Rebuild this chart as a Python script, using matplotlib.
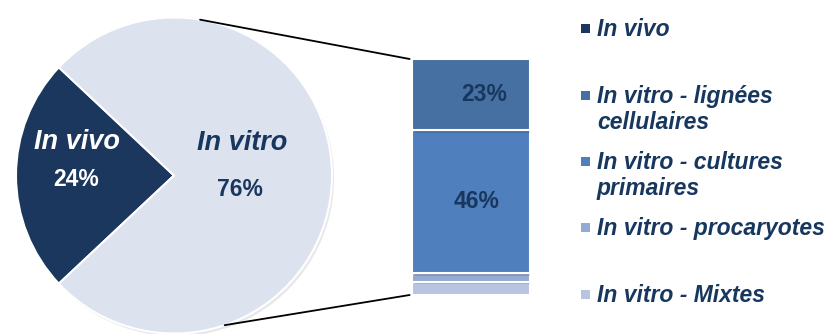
import matplotlib
matplotlib.use("Agg")
import matplotlib.pyplot as plt
from matplotlib.patches import ConnectionPatch, Rectangle
import matplotlib.patheffects as pe
import numpy as np

plt.rcParams['font.family'] = ['Liberation Sans', 'DejaVu Sans']

# main split
pie_labels = ["In vivo", "In vitro"]
pie_values = [24, 76]
pie_colors = ["#1b375d", "#dce2ee"]

# breakdown of the in vitro share (bottom to top)
bar_labels = ["In vitro - Mixtes", "In vitro - procaryotes",
              "In vitro - cultures\nprimaires", "In vitro - lignées\ncellulaires"]
bar_values = [4.3, 2.7, 46, 23]
bar_colors = ["#b8c5df", "#93aad1", "#4f7fbc", "#4670a2"]
bar_text = ["", "", "46%", "23%"]

navy = "#17375e"
W, H = 829, 334
fig = plt.figure(figsize=(W / 100, H / 100), dpi=100)

# pie on the left (axes a bit larger than the circle so the edge isn't clipped)
cx, cy, r = 174, 334 - 175.5, 158
pad = 1.03
half = r * pad
ax = fig.add_axes([(cx - half) / W, (cy - half) / H, 2 * half / W, 2 * half / H])
start = 180 - pie_values[0] / 100 * 360 / 2
wedges, _ = ax.pie(pie_values, colors=pie_colors, startangle=start,
                   counterclock=True,
                   wedgeprops=dict(edgecolor="white", linewidth=1.5))
for w in wedges:
    w.set_path_effects([pe.SimplePatchShadow(offset=(1.5, -2), alpha=0.12),
                        pe.Normal()])
ax.set_xlim(-pad, pad)
ax.set_ylim(-pad, pad)
ax.set_aspect("equal")
ax.axis("off")

def px(x, y):
    # pixel position -> pie data coordinates
    return (x - cx) / r, ((334 - y) - cy) / r

ax.text(*px(77, 142), pie_labels[0], color="white", fontsize=19.5,
        fontweight="bold", fontstyle="italic", ha="center", va="center")
ax.text(*px(76, 179), f"{pie_values[0]}%", color="white", fontsize=16.5,
        fontweight="bold", ha="center", va="center")
ax.text(*px(242, 143), pie_labels[1], color=navy, fontsize=19.5,
        fontweight="bold", fontstyle="italic", ha="center", va="center")
ax.text(*px(240, 189), f"{pie_values[1]}%", color=navy, fontsize=16.5,
        fontweight="bold", ha="center", va="center")

# stacked bar of the in vitro part
bx0, bx1, by0, by1 = 412, 530, 334 - 295, 334 - 59
bax = fig.add_axes([bx0 / W, by0 / H, (bx1 - bx0) / W, (by1 - by0) / H])
bottom = 0
for v, c, t in zip(bar_values, bar_colors, bar_text):
    b = bax.bar(0, v, bottom=bottom, width=1, color=c, edgecolor="white",
                linewidth=1.5)
    b[0].set_path_effects([pe.SimplePatchShadow(offset=(2, -2), alpha=0.15),
                           pe.Normal()])
    if t:
        dx = 0.11 if t == "23%" else 0.05
        bax.text(dx, bottom + v / 2, t, color=navy, fontsize=16.5,
                 fontweight="bold", ha="center", va="center")
    bottom += v
bax.set_xlim(-0.5, 0.5)
bax.set_ylim(0, sum(bar_values))
bax.axis("off")

# connector lines from the pie edge to the bar corners
for ang, ybar in [(80.5, sum(bar_values)), (-71.3, 0)]:
    a = np.deg2rad(ang)
    con = ConnectionPatch(xyA=(np.cos(a), np.sin(a)), coordsA=ax.transData,
                          xyB=(-0.52, ybar), coordsB=bax.transData,
                          color="black", linewidth=1.3)
    fig.add_artist(con)

# legend
leg_labels = [pie_labels[0]] + bar_labels[::-1]
leg_colors = [pie_colors[0]] + bar_colors[::-1]
leg_base = [36, 103, 169, 235, 302]
for lab, col, yb in zip(leg_labels, leg_colors, leg_base):
    fig.add_artist(Rectangle((581 / W, (334 - yb + 3) / H), 9 / W, 9 / H,
                             transform=fig.transFigure, facecolor=col,
                             edgecolor="none"))
    for i, line in enumerate(lab.split("\n")):
        fig.text(597 / W, (334 - yb - 26 * i) / H, line, color=navy,
                 fontsize=16.5, fontweight="bold", fontstyle="italic",
                 ha="left", va="baseline")

fig.savefig("out.png", dpi=100)
